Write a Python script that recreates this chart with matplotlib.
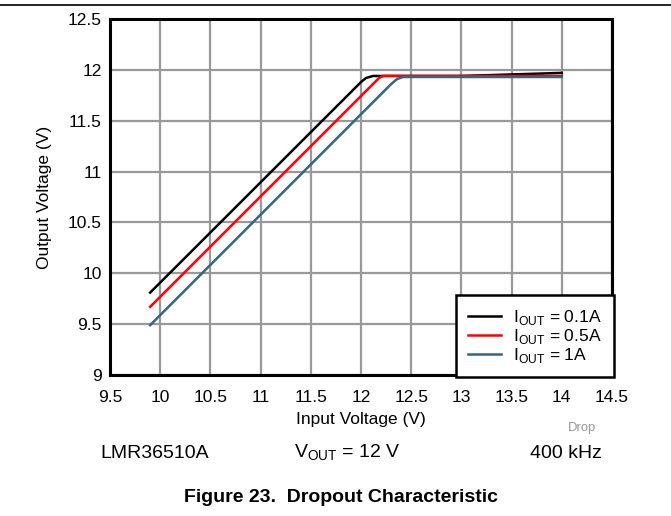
import numpy as np
import matplotlib.pyplot as plt
from matplotlib.lines import Line2D

plt.rcParams['font.family'] = ['Liberation Sans', 'DejaVu Sans']

# curve data
vin_01 = [9.9, 12.0, 12.05, 12.12, 13.0, 13.5, 14.0]
vout_01 = [9.81, 11.88, 11.92, 11.94, 11.94, 11.955, 11.97]
vin_05 = [9.9, 12.18, 12.22, 13.0, 14.0]
vout_05 = [9.67, 11.92, 11.94, 11.94, 11.94]
vin_1 = [9.9, 12.3, 12.36, 12.42, 13.0, 14.0]
vout_1 = [9.49, 11.86, 11.91, 11.93, 11.93, 11.93]

labels = [r'I$_{\mathregular{OUT}}$ = 0.1A', r'I$_{\mathregular{OUT}}$ = 0.5A',
          r'I$_{\mathregular{OUT}}$ = 1A']
colors = ['#000000', '#ff0000', '#336680']

xticks = [9.5, 10, 10.5, 11, 11.5, 12, 12.5, 13, 13.5, 14, 14.5]
yticks = [9, 9.5, 10, 10.5, 11, 11.5, 12, 12.5]

W, H = 671, 516
fig = plt.figure(figsize=(W / 100, H / 100), dpi=100)
ax = fig.add_axes([110 / W, 1 - 375 / H, 502 / W, 356 / H])

series = [(vin_01, vout_01), (vin_05, vout_05), (vin_1, vout_1)]
for (x, y), c, lab in zip(series, colors, labels):
    ax.plot(x, y, color=c, lw=1.8, label=lab, zorder=3)

ax.set_xlim(9.5, 14.5)
ax.set_ylim(9, 12.5)
ax.set_xticks(xticks)
ax.set_xticklabels(['%g' % t for t in xticks])
ax.set_yticks(yticks)
ax.set_yticklabels(['%g' % t for t in yticks])
ax.tick_params(length=0, labelsize=12.5)
ax.tick_params(axis='x', pad=11)
ax.tick_params(axis='y', pad=6)
ax.grid(True, color='#999999', lw=1.6)
ax.set_axisbelow(True)
for s in ax.spines.values():
    s.set_linewidth(2.2)

ax.set_xlabel('Input Voltage (V)', fontsize=12.5, labelpad=5)
ax.set_ylabel('Output Voltage (V)', fontsize=12.5, labelpad=11)

handles = [Line2D([0], [0], color=c, lw=1.8) for c in colors]
leg = ax.legend(handles, labels, loc='lower right', fontsize=12.5, fancybox=False,
                framealpha=1, edgecolor='black', borderpad=0.7, handlelength=1.9,
                handletextpad=0.7, labelspacing=0.0, borderaxespad=-0.1)
leg.get_frame().set_linewidth(1.8)

# rule at top of page
fig.add_artist(Line2D([0, 1], [1 - 5 / H, 1 - 5 / H], color='black', lw=1.2))

fig.text(596 / W, 1 - 428 / H, 'Drop', fontsize=9.4, color='#999999', ha='right', va='center')
fig.text(100 / W, 1 - 453 / H, 'LMR36510A', fontsize=14, ha='left', va='center')
fig.text(347 / W, 1 - 453 / H, r'V$_{\mathregular{OUT}}$ = 12 V', fontsize=14, ha='center', va='center')
fig.text(602 / W, 1 - 453 / H, '400 kHz', fontsize=14, ha='right', va='center')
fig.text(341 / W, 1 - 497 / H, 'Figure 23.  Dropout Characteristic', fontsize=14,
         fontweight='bold', ha='center', va='center')

fig.savefig('out.png', dpi=100)
